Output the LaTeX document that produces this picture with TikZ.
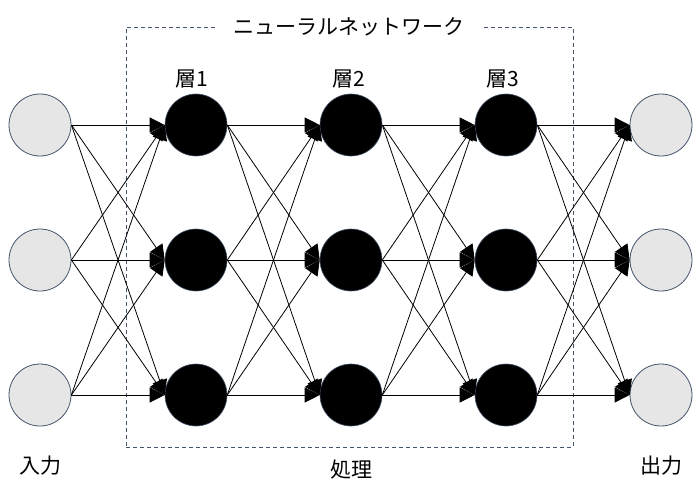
\documentclass[tikz,border=0pt]{standalone}
\usepackage{fontspec}
\newfontfamily\jpfont{Noto Sans CJK JP}
\usetikzlibrary{arrows.meta,positioning}
\definecolor{frameblue}{HTML}{44546A}
\definecolor{unitgray}{HTML}{E7E6E6}

\begin{document}
\begin{tikzpicture}[x=1pt,y=-1pt,font=\jpfont\fontsize{21}{25}\selectfont,
 >={Triangle[length=15pt,width=15pt]},
 io/.style={circle,draw=frameblue,line width=.8pt,fill=unitgray,minimum size=62pt,inner sep=0pt},
 unit/.style={circle,draw=frameblue,line width=.6pt,fill=black,minimum size=62pt,inner sep=0pt},
 line/.style={->,line width=.8pt},
 frame/.style={draw=frameblue,dashed,dash pattern=on 4pt off 3pt,line width=.9pt,minimum width=447pt,minimum height=420pt,inner sep=0pt}]
\useasboundingbox (0,0) rectangle (700,500);
% box round the hidden layers
\node[frame] (net) at (349.5,237) {};
\node[fill=white,inner xsep=18pt,inner ysep=2pt] (title) at (349,27) {ニューラルネットワーク};
% input / output
\node[io] (in1) at (40,125) {};
\node[io] (in2) at (40,260) {};
\node[io] (in3) at (40,395) {};
\node[io] (out1) at (661,125) {};
\node[io] (out2) at (661,260) {};
\node[io] (out3) at (661,395) {};
% hidden layers
\node[unit] (a1) at (196,125) {};
\node[unit] (a2) at (196,260) {};
\node[unit] (a3) at (196,395) {};
\node[unit] (b1) at (351,125) {};
\node[unit] (b2) at (351,260) {};
\node[unit] (b3) at (351,395) {};
\node[unit] (c1) at (506,125) {};
\node[unit] (c2) at (506,260) {};
\node[unit] (c3) at (506,395) {};
% labels
\node[above=2pt of a1,xshift=-4pt] (la) {層1};
\node[above=2pt of b1,xshift=-2pt] (lb) {層2};
\node[above=2pt of c1,xshift=-3pt] (lc) {層3};
\node (lin) at (40,466) {入力};
\node (lout) at (661,466) {出力};
\node (lnet) at (351,470) {処理};
% connections
\foreach \i in {1,2,3}{
 \foreach \j in {1,2,3}{
  \draw[line] (in\i.east)--(a\j.west);
  \draw[line] (a\i.east)--(b\j.west);
  \draw[line] (b\i.east)--(c\j.west);
  \draw[line] (c\i.east)--(out\j.west);
 }}
\end{tikzpicture}
\end{document}
